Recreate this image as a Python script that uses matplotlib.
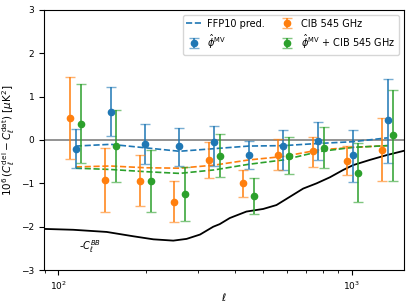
import numpy as np
import matplotlib.pyplot as plt

# bin centres (multipole)
ell = [115, 151, 198, 259, 340, 446, 585, 770, 1008, 1325]

# phi MV
mv = [-0.21, 0.65, -0.09, -0.15, -0.04, -0.34, -0.13, -0.02, -0.35, 0.45]
mv_lo = [-0.65, 0.09, -0.56, -0.60, -0.60, -0.68, -0.69, -0.46, -0.96, -0.54]
mv_hi = [0.25, 1.22, 0.38, 0.27, 0.32, -0.02, 0.22, 0.41, 0.24, 1.41]

# CIB 545
cib = [0.51, -0.92, -0.94, -1.42, -0.45, -1.00, -0.35, -0.26, -0.48, -0.22]
cib_lo = [-0.43, -1.67, -1.52, -1.90, -0.87, -1.31, -0.69, -0.62, -0.80, -0.94]
cib_hi = [1.45, -0.18, -0.34, -0.94, -0.04, -0.69, 0.02, 0.08, -0.15, 0.50]

# phi MV + CIB 545
comb = [0.37, -0.14, -0.95, -1.25, -0.36, -1.29, -0.37, -0.18, -0.76, 0.11]
comb_lo = [-0.54, -0.96, -1.65, -1.87, -0.86, -1.71, -0.79, -0.65, -1.44, -0.94]
comb_hi = [1.28, 0.69, -0.23, -0.63, 0.13, -0.88, 0.08, 0.31, -0.06, 1.15]

# FFP10 predictions
pred_mv = [-0.14, -0.10, -0.18, -0.26, -0.20, -0.14, -0.13, -0.08, -0.04, 0.05]
pred_cib = [-0.62, -0.60, -0.64, -0.65, -0.58, -0.46, -0.38, -0.23, -0.17, -0.13]
pred_comb = [-0.65, -0.68, -0.73, -0.77, -0.69, -0.56, -0.46, -0.27, -0.17, -0.13]

# -C_l^BB curve
bb_ell = [89.6, 112.7, 146.5, 180.5, 211.1, 246.8, 274.0, 304.4, 337.5, 355.1,
          384.2, 394.2, 437.9, 499.3, 554.0, 615.3, 683.2, 758.6, 842.2, 935.0,
          1010, 1151, 1312, 1503]
bb_val = [-2.05, -2.07, -2.12, -2.22, -2.29, -2.32, -2.28, -2.18, -2.00, -1.94,
          -1.80, -1.77, -1.65, -1.59, -1.50, -1.31, -1.12, -1.00, -0.86, -0.69,
          -0.58, -0.46, -0.35, -0.25]

plt.rcParams['font.size'] = 6.5
fig = plt.figure(figsize=(4.15, 3.08), dpi=100)
ax = fig.add_axes([0.106, 0.123, 0.867, 0.845])

ell = np.array(ell)
ax.axhline(0, color='grey', lw=1.2)

ax.plot(bb_ell, bb_val, color='k', lw=1.3)
ax.text(118, -2.45, r'-$C_\ell^{BB}$', fontsize=7, va='center')

ax.plot(ell, pred_mv, '--', color='C0', lw=1.2, label='FFP10 pred.')
ax.plot(ell, pred_cib, '--', color='C1', lw=1.2)
ax.plot(ell, pred_comb, '--', color='C2', lw=1.2)

def errbar(x, y, lo, hi, c, lab):
    y = np.array(y)
    err = [y - np.array(lo), np.array(hi) - y]
    m, caps, bars = ax.errorbar(x, y, yerr=err, fmt='o', color=c, ms=4.5,
                                capsize=3.5, elinewidth=1.3, label=lab)
    for cp in caps:
        cp.set_alpha(0.6)
    for b in bars:
        b.set_alpha(0.85)

errbar(ell, mv, mv_lo, mv_hi, 'C0', r'$\hat\phi^{\rm MV}$')
errbar(ell * 0.957, cib, cib_lo, cib_hi, 'C1', 'CIB 545 GHz')
errbar(ell * 1.043, comb, comb_lo, comb_hi, 'C2', r'$\hat\phi^{\rm MV}$ + CIB 545 GHz')

ax.set_xscale('log')
ax.set_xlim(89.6, 1503)
ax.set_ylim(-3, 3)
ax.tick_params(labelsize=6.5)
ax.set_xlabel(r'$\ell$', fontsize=7.5, labelpad=-1)
ax.set_ylabel(r'$10^6\,(C_\ell^{\rm del} - C_\ell^{\rm dat})\ [\mu{\rm K}^2]$', fontsize=7.5, labelpad=3)
ax.legend(loc='upper right', ncol=2, fontsize=7, handlelength=1.5,
          columnspacing=1.6, handletextpad=0.6, borderaxespad=0.5,
          labelspacing=0.4)

fig.savefig('out.png', dpi=100)
